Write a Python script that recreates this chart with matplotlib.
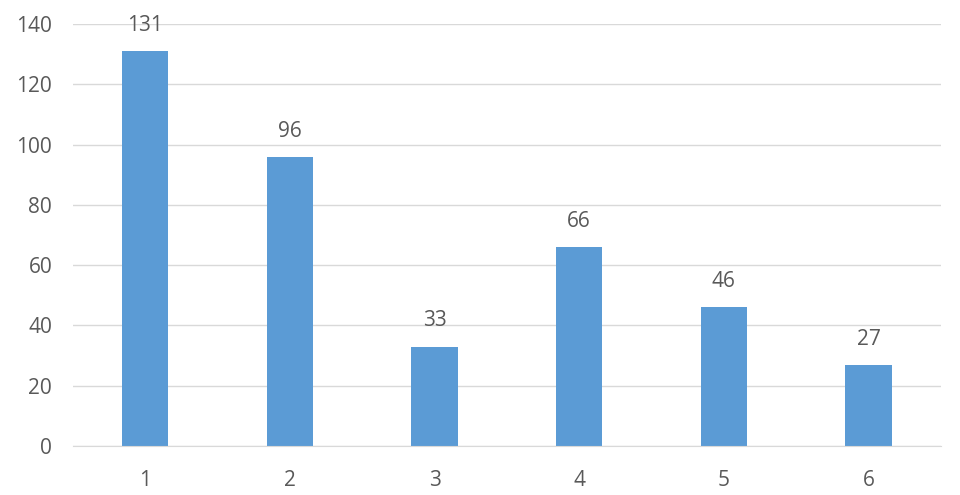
import matplotlib
matplotlib.use("Agg")
import matplotlib.pyplot as plt

# chart data
categories = ['1', '2', '3', '4', '5', '6']
values = [131, 96, 33, 66, 46, 27]
y_ticks = [0, 20, 40, 60, 80, 100, 120, 140]

bar_color = '#5B9BD5'
text_color = '#595959'
grid_color = '#D9D9D9'

plt.rcParams['font.family'] = ['Open Sans', 'DejaVu Sans']

fig = plt.figure(figsize=(9.6, 4.95), dpi=100)
ax = fig.add_axes([0.076, 0.099, 0.904, 0.8525])

x = range(len(categories))
bars = ax.bar(x, values, width=0.32, color=bar_color, zorder=3)

# value labels above each bar
for b, v in zip(bars, values):
    ax.text(b.get_x() + b.get_width() / 2, v + 5, str(v),
            ha='center', va='bottom', fontsize=15, color=text_color)

ax.set_xlim(-0.5, len(categories) - 0.5)
ax.set_ylim(0, 140)
ax.set_xticks(list(x))
ax.set_xticklabels(categories)
ax.set_yticks(y_ticks)

ax.grid(True, axis='y', color=grid_color, linewidth=1, zorder=0)
for side in ['top', 'right', 'left']:
    ax.spines[side].set_visible(False)
ax.spines['bottom'].set_color(grid_color)
ax.spines['bottom'].set_zorder(4)

ax.tick_params(axis='both', length=0, labelsize=15, labelcolor=text_color)
ax.tick_params(axis='y', pad=15)
ax.tick_params(axis='x', pad=17)

fig.savefig('out.png', dpi=100)
